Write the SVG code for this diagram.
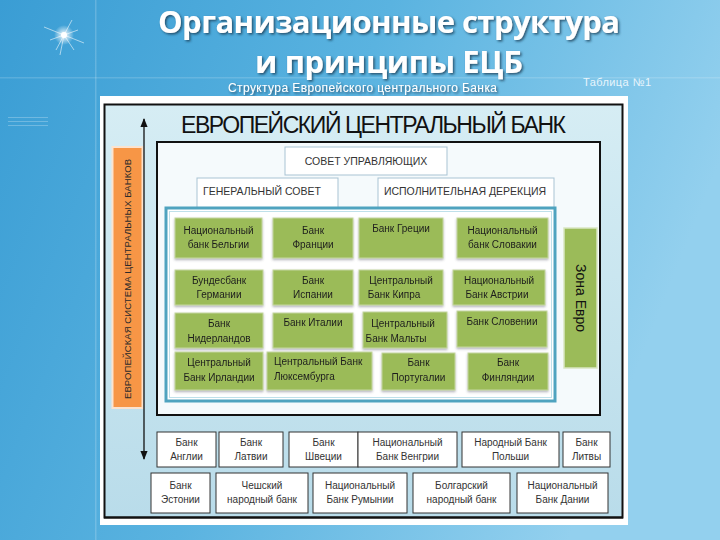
<svg xmlns="http://www.w3.org/2000/svg" width="720" height="540" viewBox="0 0 720 540">
<defs>
<linearGradient id="bg" x1="0" y1="0" x2="1" y2="0.3">
<stop offset="0" stop-color="#3a9dd4"/>
<stop offset="0.5" stop-color="#5ab3e0"/>
<stop offset="1" stop-color="#93d0ee"/>
</linearGradient>
<linearGradient id="panel" x1="0" y1="0" x2="0" y2="1">
<stop offset="0" stop-color="#d6edf4"/>
<stop offset="1" stop-color="#b9dcea"/>
</linearGradient>
<radialGradient id="glow">
<stop offset="0" stop-color="#ffffff" stop-opacity="1"/>
<stop offset="1" stop-color="#ffffff" stop-opacity="0"/>
</radialGradient>
<filter id="sh" x="-10%" y="-20%" width="120%" height="150%">
<feDropShadow dx="1.5" dy="1.5" stdDeviation="1" flood-color="#1a3a55" flood-opacity="0.8"/>
</filter>
<filter id="bsh" x="-10%" y="-10%" width="120%" height="130%">
<feDropShadow dx="0" dy="1.5" stdDeviation="1" flood-color="#556" flood-opacity="0.45"/>
</filter>
<marker id="ah" viewBox="0 0 10 10" refX="9" refY="5" markerWidth="7" markerHeight="7" orient="auto-start-reverse">
<path d="M0,1 L10,5 L0,9 z" fill="#111"/>
</marker>
<style>
.title{font-family:"Open Sans","DejaVu Sans",sans-serif;font-weight:bold;font-size:31px;fill:#ffffff;text-anchor:middle}
.sub{font-family:"Liberation Sans",Arial,sans-serif;font-size:12px;fill:#ffffff}
.head{font-family:"Liberation Sans",Arial,sans-serif;font-size:23px;fill:#111}
.top{fill:#ffffff;stroke:#a9c3d3;stroke-width:1}
.toptxt{font-family:"Liberation Sans",Arial,sans-serif;font-size:10.5px;fill:#333}
.g{fill:#9bbb59;stroke:#c4d6a0;stroke-width:1}
.gt{font-family:"Liberation Sans",Arial,sans-serif;font-size:10px;fill:#1d1d1d;text-anchor:middle}
.gl{font-family:"Liberation Sans",Arial,sans-serif;font-size:10px;fill:#1d1d1d;text-anchor:start}
.w{fill:#ffffff;stroke:#333;stroke-width:1}
.wt{font-family:"Liberation Sans",Arial,sans-serif;font-size:10px;fill:#333;text-anchor:middle}
</style>
</defs>

<!-- background -->
<rect x="0" y="0" width="720" height="540" fill="url(#bg)"/>
<rect x="95" y="0" width="1.5" height="540" fill="#ffffff" opacity="0.18"/>
<rect x="0" y="77" width="720" height="1.5" fill="#ffffff" opacity="0.15"/>
<rect x="8" y="117" width="40" height="1" fill="#ffffff" opacity="0.25"/>
<rect x="8" y="121" width="40" height="1" fill="#ffffff" opacity="0.25"/>
<rect x="8" y="125" width="40" height="1" fill="#ffffff" opacity="0.25"/>
<g id="star">
<circle cx="64" cy="35" r="10" fill="url(#glow)"/>
<path d="M44,27 L84,43 M56,50 L72,20 M50,40 L78,30 M64,35 L60,55 M64,35 L74,50" stroke="#ffffff" stroke-width="0.8" opacity="0.7"/>
<circle cx="64" cy="35" r="3" fill="#ffffff"/>
</g>

<!-- titles -->
<text class="title" x="389" y="33" textLength="462" filter="url(#sh)">Организационные структура</text>
<text class="title" x="389" y="73" textLength="268" filter="url(#sh)">и принципы ЕЦБ</text>
<text class="sub" x="228" y="92" textLength="269" filter="url(#sh)">Структура Европейского центрального Банка</text>
<text x="583" y="86" font-family="Liberation Sans, Arial, sans-serif" font-size="11" fill="#e8f5fc" textLength="68">Таблица №1</text>

<!-- main panel -->
<rect x="100" y="96" width="528" height="429" fill="#ffffff"/>
<rect x="104.5" y="104.5" width="518" height="413" fill="url(#panel)" stroke="#111" stroke-width="2"/>
<text class="head" x="181" y="133" textLength="385">ЕВРОПЕЙСКИЙ ЦЕНТРАЛЬНЫЙ БАНК</text>

<!-- inner box -->
<rect x="157" y="142" width="443" height="273" fill="#f5fafc" stroke="#111" stroke-width="2"/>

<g id="ecb-organs">
<g id="council-governors">
<rect class="top" x="285" y="147" width="162" height="28"/>
<text class="toptxt" x="366" y="165" text-anchor="middle">СОВЕТ УПРАВЛЯЮЩИХ</text>
</g>
<g id="general-council">
<rect class="top" x="197" y="178" width="141" height="32"/>
<text class="toptxt" x="203" y="195">ГЕНЕРАЛЬНЫЙ СОВЕТ</text>
</g>
<g id="executive-board">
<rect class="top" x="378" y="178" width="176" height="32"/>
<text class="toptxt" x="465" y="195" text-anchor="middle">ИСПОЛНИТЕЛЬНАЯ ДЕРЕКЦИЯ</text>
</g>
</g>

<!-- euro zone frame -->
<rect x="166" y="208" width="389" height="193" fill="#ffffff" stroke="#4fa3bf" stroke-width="3"/>
<rect x="169.5" y="211.5" width="382" height="186" fill="none" stroke="#bfe0ea" stroke-width="1"/>

<g id="eurozone-banks" filter="url(#bsh)">
<g id="belgium"><rect class="g" x="175" y="218" width="87" height="40"/><text class="gt" x="218.5" y="234">Национальный</text><text class="gt" x="218.5" y="248">банк Бельгии</text></g>
<g id="france"><rect class="g" x="273" y="218" width="80" height="40"/><text class="gt" x="313" y="234">Банк</text><text class="gt" x="313" y="248">Франции</text></g>
<g id="greece"><rect class="g" x="359" y="218" width="84" height="40"/><text class="gt" x="401" y="232">Банк Греции</text></g>
<g id="slovakia"><rect class="g" x="457" y="218" width="91" height="40"/><text class="gt" x="502.5" y="234">Национальный</text><text class="gt" x="502.5" y="248">банк Словакии</text></g>

<g id="germany"><rect class="g" x="175" y="270" width="88" height="35"/><text class="gt" x="219" y="284">Бундесбанк</text><text class="gt" x="219" y="298">Германии</text></g>
<g id="spain"><rect class="g" x="273" y="270" width="80" height="35"/><text class="gt" x="313" y="284">Банк</text><text class="gt" x="313" y="298">Испании</text></g>
<g id="cyprus"><rect class="g" x="359" y="270" width="84" height="35"/><text class="gt" x="401" y="284">Центральный</text><text class="gt" x="394" y="298">Банк Кипра</text></g>
<g id="austria"><rect class="g" x="453" y="270" width="92" height="35"/><text class="gt" x="499" y="284">Национальный</text><text class="gt" x="497" y="298">Банк Австрии</text></g>

<g id="netherlands"><rect class="g" x="175" y="313" width="88" height="35"/><text class="gt" x="219" y="327">Банк</text><text class="gt" x="219" y="342">Нидерландов</text></g>
<g id="italy"><rect class="g" x="273" y="313" width="80" height="35"/><text class="gt" x="313" y="326">Банк Италии</text></g>
<g id="malta"><rect class="g" x="363" y="312" width="84" height="36"/><text class="gt" x="403" y="327">Центральный</text><text class="gt" x="396" y="342">Банк Мальты</text></g>
<g id="slovenia"><rect class="g" x="457" y="311" width="90" height="36"/><text class="gt" x="502" y="325">Банк Словении</text></g>

<g id="ireland"><rect class="g" x="175" y="352" width="88" height="38"/><text class="gt" x="219" y="366">Центральный</text><text class="gt" x="219" y="381">Банк Ирландии</text></g>
<g id="luxembourg"><rect class="g" x="267" y="352" width="105" height="38"/><text class="gl" x="274" y="365">Центральный Банк</text><text class="gl" x="274" y="380">Люксембурга</text></g>
<g id="portugal"><rect class="g" x="382" y="353" width="73" height="37"/><text class="gt" x="418.5" y="366">Банк</text><text class="gt" x="418.5" y="381">Португалии</text></g>
<g id="finland"><rect class="g" x="468" y="353" width="80" height="37"/><text class="gt" x="508" y="366">Банк</text><text class="gt" x="508" y="381">Финляндии</text></g>
</g>

<g id="euro-zone-label">
<rect x="564" y="228" width="33" height="140" fill="#9bbb59" stroke="#d9e6c2" stroke-width="1.5"/>
<text x="580.5" y="298" transform="rotate(90 580.5 298)" font-family="Liberation Sans, Arial, sans-serif" font-size="14" fill="#111" text-anchor="middle" dominant-baseline="central">Зона Евро</text>
</g>

<g id="escb-label">
<rect x="112.5" y="147" width="30" height="261" fill="#f79646" stroke="#fbe3cf" stroke-width="2"/>
<text x="127.5" y="279" transform="rotate(-90 127.5 279)" font-family="Liberation Sans, Arial, sans-serif" font-size="9.5" fill="#2a2a2a" text-anchor="middle" dominant-baseline="central" textLength="240">ЕВРОПЕЙСКАЯ СИСТЕМА ЦЕНТРАЛЬНЫХ БАНКОВ</text>
</g>

<g id="connectors">
<line x1="144" y1="119" x2="144" y2="459" stroke="#111" stroke-width="1.3" marker-start="url(#ah)" marker-end="url(#ah)"/>
</g>

<g id="non-euro-banks">
<g id="england"><rect class="w" x="157" y="432" width="59" height="35"/><text class="wt" x="186.5" y="446">Банк</text><text class="wt" x="186.5" y="460">Англии</text></g>
<g id="latvia"><rect class="w" x="219" y="432" width="64" height="35"/><text class="wt" x="251" y="446">Банк</text><text class="wt" x="251" y="460">Латвии</text></g>
<g id="sweden"><rect class="w" x="289" y="432" width="69" height="35"/><text class="wt" x="323.5" y="446">Банк</text><text class="wt" x="323.5" y="460">Швеции</text></g>
<g id="hungary"><rect class="w" x="358" y="432" width="99" height="35"/><text class="wt" x="407.5" y="446">Национальный</text><text class="wt" x="407.5" y="460">Банк Венгрии</text></g>
<g id="poland"><rect class="w" x="462" y="432" width="97" height="35"/><text class="wt" x="510.5" y="446">Народный Банк</text><text class="wt" x="510.5" y="460">Польши</text></g>
<g id="lithuania"><rect class="w" x="563" y="432" width="47" height="35"/><text class="wt" x="586.5" y="446">Банк</text><text class="wt" x="586.5" y="460">Литвы</text></g>

<g id="estonia"><rect class="w" x="151" y="473" width="59" height="40"/><text class="wt" x="180.5" y="489">Банк</text><text class="wt" x="180.5" y="503">Эстонии</text></g>
<g id="czech"><rect class="w" x="216" y="473" width="92" height="40"/><text class="wt" x="262" y="489">Чешский</text><text class="wt" x="262" y="503">народный банк</text></g>
<g id="romania"><rect class="w" x="313" y="473" width="94" height="40"/><text class="wt" x="360" y="489">Национальный</text><text class="wt" x="360" y="503">Банк Румынии</text></g>
<g id="bulgaria"><rect class="w" x="413" y="473" width="97" height="40"/><text class="wt" x="461.5" y="489">Болгарский</text><text class="wt" x="461.5" y="503">народный банк</text></g>
<g id="denmark"><rect class="w" x="517" y="473" width="91" height="40"/><text class="wt" x="562.5" y="489">Национальный</text><text class="wt" x="562.5" y="503">Банк Дании</text></g>
</g>

<line x1="104" y1="517.5" x2="623" y2="517.5" stroke="#111" stroke-width="2"/>
</svg>
